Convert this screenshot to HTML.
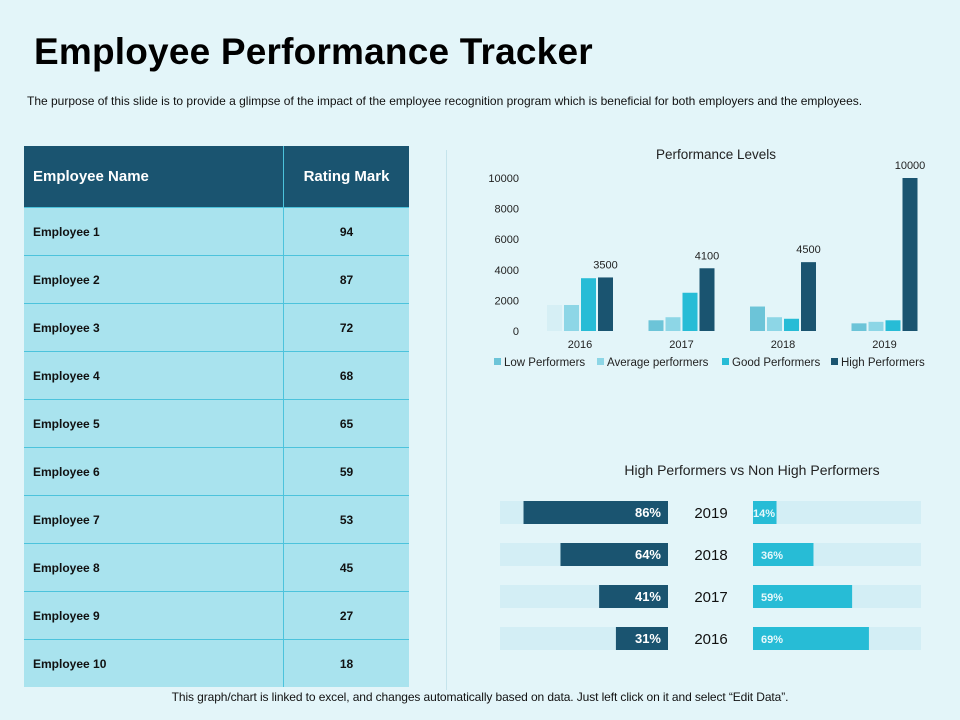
<!DOCTYPE html>
<html><head><meta charset="utf-8"><style>
body{margin:0;width:960px;height:720px;background:#e3f5f9;font-family:"Liberation Sans",sans-serif;position:relative;overflow:hidden}
.abs{position:absolute}
h1{position:absolute;left:34px;top:31px;margin:0;font-size:37px;font-weight:bold;color:#000;letter-spacing:0.2px}
table{position:absolute;left:24px;top:146px;border-collapse:collapse;width:385px}
th{background:#1a5470;color:#fff;height:61px;font-size:15px;text-align:left;padding:0 0 0 9px}
th+th{text-align:center;padding:0;border-left:1px solid #4cc3dc}
td{background:#a9e3ee;height:47px;border-top:1px solid #4cc3dc;font-size:12px;font-weight:bold;padding:0 0 0 9px;color:#111}
td+td{text-align:center;padding:0;border-left:1px solid #4cc3dc;width:125px}
</style></head><body>
<h1>Employee Performance Tracker</h1>
<div class="abs" style="left:27px;top:94px;font-size:12px;letter-spacing:0px;color:#111;white-space:nowrap">The purpose of this slide is to provide a glimpse of the impact of the employee recognition program which is beneficial for both employers and the employees.</div>
<table>
<tr><th>Employee Name</th><th>Rating Mark</th></tr>
<tr><td>Employee 1</td><td>94</td></tr><tr><td>Employee 2</td><td>87</td></tr><tr><td>Employee 3</td><td>72</td></tr><tr><td>Employee 4</td><td>68</td></tr><tr><td>Employee 5</td><td>65</td></tr><tr><td>Employee 6</td><td>59</td></tr><tr><td>Employee 7</td><td>53</td></tr><tr><td>Employee 8</td><td>45</td></tr><tr><td>Employee 9</td><td>27</td></tr><tr><td>Employee 10</td><td>18</td></tr>
</table>
<div class="abs" style="left:446px;top:150px;width:1px;height:540px;background:#c5e4ec"></div>
<svg class="abs" style="left:0;top:0" width="960" height="720" id="svg"></svg>
<div class="abs" style="left:0;width:960px;text-align:center;top:690px;font-size:12px;letter-spacing:-0.1px;color:#111">This graph/chart is linked to excel, and changes automatically based on data. Just left click on it and select “Edit Data”.</div>
<script>
const years=["2016","2017","2018","2019"];
const lowVals=[1700,700,1600,500];
const avgVals=[1700,900,900,600];
const goodVals=[3450,2500,800,700];
const highVals=[3500,4100,4500,10000];
const yTicks=[0,2000,4000,6000,8000,10000];
const seriesNames=["Low Performers","Average performers","Good Performers","High Performers"];
const highPct=[31,41,64,86];
const nonHighPct=[69,59,36,14];
const NS="http://www.w3.org/2000/svg",svg=document.getElementById('svg');
function el(t,a,txt){const e=document.createElementNS(NS,t);for(const k in a)e.setAttribute(k,a[k]);if(txt!=null)e.textContent=txt;svg.appendChild(e);return e;}
const y=v=>331-v*0.0153, gx=i=>580+i*101.5;
let t=el('text',{x:716,y:159,'font-size':13.5,'text-anchor':'middle',fill:'#222'},'Performance Levels');

yTicks.forEach(v=>{const e=el('text',{x:519,y:y(v)+4,'font-size':11,'text-anchor':'end',fill:'#222'},v);
});
const series=[lowVals,avgVals,goodVals,highVals],cols=["#6cc4d8","#8dd6e6","#27bcd6","#1a5470"];
years.forEach((yr,i)=>{
 series.forEach((s,j)=>{const x=gx(i)-33+j*17;
  const c=(j==0&&i==0)?"#d6eff5":cols[j];
  const r=el('rect',{x:x,y:y(s[i]),width:15,height:331-y(s[i]),fill:c});
  
  if(j==3){const l=el('text',{x:x+7.5,y:y(s[i])-9,'font-size':11,'text-anchor':'middle',fill:'#222'},s[i]);
   }
 });
 const e=el('text',{x:gx(i),y:348,'font-size':11,'text-anchor':'middle',fill:'#222'},yr);
 
});
const lx=[494,597,722,831];
seriesNames.forEach((n,j)=>{const r=el('rect',{x:lx[j],y:358,width:7,height:7,fill:cols[j]});
 
 const e=el('text',{x:lx[j]+10,y:366,'font-size':11.5,fill:'#222'},n);
 });
t=el('text',{x:752,y:475,'font-size':14,'text-anchor':'middle',fill:'#222'},'High Performers vs Non High Performers');

const rowY=i=>627-i*42, W=168;
years.forEach((yr,i)=>{const ry=rowY(i);
 let r=el('rect',{x:500,y:ry,width:W,height:23,fill:'#d3eef5'});
 r=el('rect',{x:753,y:ry,width:W,height:23,fill:'#d3eef5'});
 const hw=highPct[i]/100*W;
 r=el('rect',{x:668-hw,y:ry,width:hw,height:23,fill:'#1a5470'});
 let e=el('text',{x:661,y:ry+16,'font-size':13,'font-weight':'bold','text-anchor':'end',fill:'#fff'},highPct[i]+'%');
 
 const nw=nonHighPct[i]/100*W;
 r=el('rect',{x:753,y:ry,width:nw,height:23,fill:'#27bcd6'});
 e=el('text',{x:nw<30?753:761,y:ry+16,'font-size':11,'font-weight':'bold',fill:'#e8f8fb'},nonHighPct[i]+'%');
 
 e=el('text',{x:711,y:ry+17,'font-size':15,'text-anchor':'middle',fill:'#111'},yr);
 
});
</script>
</body></html>
